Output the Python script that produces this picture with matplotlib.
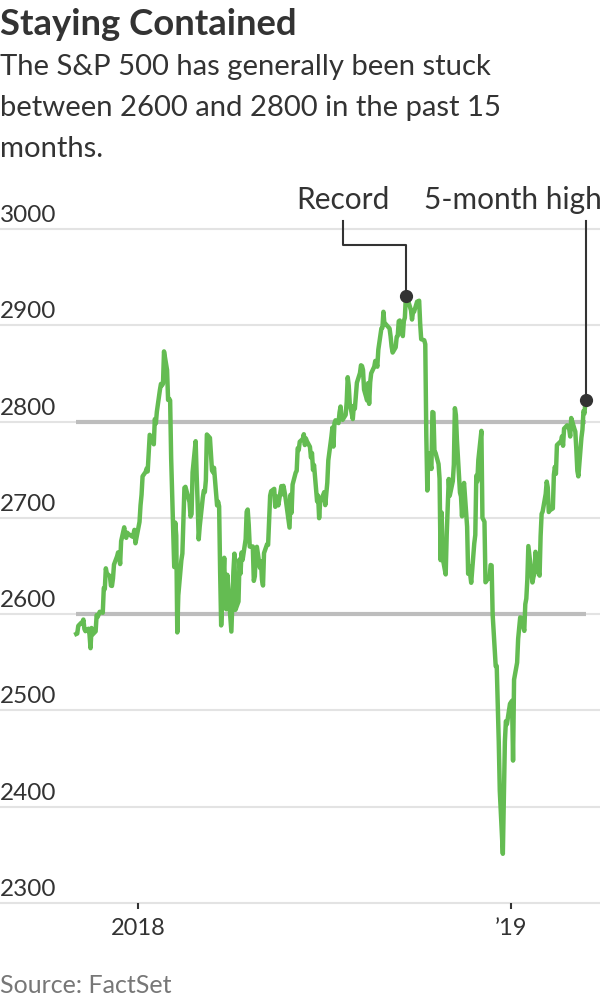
import numpy as np
import pandas as pd
import matplotlib
matplotlib.use('Agg')
import matplotlib.pyplot as plt
import matplotlib.transforms as mtransforms

plt.rcParams['font.family'] = ['Lato', 'DejaVu Sans']

# S&P 500 daily closes, Nov 2017 - Mar 15 2019
holidays = ['2017-11-23', '2017-12-25', '2018-01-01', '2018-01-15', '2018-02-19',
            '2018-03-30', '2018-05-28', '2018-07-04', '2018-09-03', '2018-11-22',
            '2018-12-05', '2018-12-25', '2019-01-01', '2019-01-21', '2019-02-18']

nov17 = [2579.36, 2579.85, 2587.84, 2591.13, 2590.64, 2594.38, 2584.62, 2582.30, 2584.84, 2578.87,
         2564.62, 2585.64, 2578.85, 2582.14, 2599.03, 2597.08, 2602.42, 2601.42, 2627.04, 2626.07,
         2647.58]
dec17 = [2642.22, 2639.44, 2629.57, 2629.27, 2636.98, 2651.50, 2659.99, 2664.11, 2662.85, 2652.01,
         2675.81, 2690.16, 2681.47, 2679.25, 2684.57, 2683.34, 2680.50, 2682.62, 2687.54, 2673.61]
jan18 = [2695.81, 2713.06, 2723.99, 2743.15, 2747.71, 2751.29, 2748.23, 2767.56, 2786.24, 2776.42,
         2802.56, 2798.03, 2810.30, 2832.97, 2839.13, 2837.54, 2839.25, 2872.87, 2853.53, 2822.43,
         2823.81]
feb18 = [2821.98, 2762.13, 2648.94, 2695.14, 2681.66, 2581.00, 2619.55, 2656.00, 2662.94, 2698.63,
         2731.20, 2732.22, 2716.26, 2701.33, 2703.96, 2747.30, 2779.60, 2744.28, 2713.83]
mar18 = [2677.67, 2691.25, 2720.94, 2728.12, 2726.80, 2738.97, 2786.57, 2783.02, 2765.31, 2749.48,
         2747.33, 2752.01, 2712.92, 2716.94, 2711.93, 2643.69, 2588.26, 2658.55, 2612.62, 2605.00,
         2640.87]
apr18 = [2581.88, 2614.45, 2644.69, 2662.84, 2604.47, 2613.16, 2656.87, 2642.19, 2663.99, 2656.30,
         2677.84, 2706.39, 2708.64, 2693.13, 2670.14, 2670.29, 2634.56, 2639.40, 2666.94, 2669.91,
         2648.05]
may18 = [2654.80, 2635.67, 2629.73, 2663.42, 2672.63, 2671.92, 2697.79, 2723.07, 2727.72, 2730.13,
         2711.45, 2722.46, 2720.13, 2712.97, 2733.01, 2724.44, 2733.29, 2727.76, 2721.33, 2689.86,
         2724.01, 2705.27]
jun18 = [2734.62, 2746.87, 2748.80, 2772.35, 2770.37, 2779.03, 2782.00, 2786.85, 2775.63, 2782.49,
         2779.66, 2773.75, 2762.59, 2767.32, 2749.76, 2754.88, 2717.07, 2723.06, 2699.63, 2716.31,
         2718.37]
jul18 = [2726.71, 2713.22, 2736.61, 2759.82, 2784.17, 2793.84, 2774.02, 2798.29, 2801.31, 2798.43,
         2809.55, 2815.62, 2804.49, 2801.83, 2806.98, 2820.40, 2846.07, 2837.44, 2818.82, 2802.60,
         2816.29]
aug18 = [2813.36, 2827.22, 2840.35, 2850.40, 2858.45, 2857.70, 2853.58, 2833.28, 2821.93, 2839.96,
         2818.37, 2840.69, 2850.13, 2857.05, 2862.96, 2861.82, 2856.98, 2874.69, 2896.74, 2897.52,
         2914.04, 2901.13, 2901.52]
sep18 = [2896.72, 2888.60, 2878.05, 2871.68, 2877.13, 2887.89, 2888.92, 2904.18, 2904.98, 2888.80,
         2904.31, 2907.95, 2930.75, 2929.67, 2919.37, 2915.56, 2905.97, 2914.00, 2913.98]
oct18 = [2924.59, 2923.43, 2925.51, 2901.61, 2885.57, 2884.43, 2880.34, 2785.68, 2728.37, 2767.13,
         2750.79, 2809.92, 2809.21, 2768.78, 2767.78, 2755.88, 2740.69, 2656.10, 2705.57, 2658.69,
         2641.25, 2682.63, 2711.74]
nov18 = [2740.37, 2723.06, 2738.31, 2755.45, 2813.89, 2806.83, 2781.01, 2726.22, 2722.18, 2701.58,
         2730.20, 2736.27, 2690.73, 2641.89, 2649.93, 2632.56, 2673.45, 2682.17, 2743.79, 2737.80,
         2760.17]
dec18 = [2790.37, 2700.06, 2695.95, 2633.08, 2637.72, 2636.78, 2651.07, 2650.54, 2599.95, 2545.94,
         2546.16, 2506.96, 2467.42, 2416.62, 2351.10, 2467.70, 2488.83, 2485.74, 2506.85]
jan19 = [2510.03, 2447.89, 2531.94, 2549.69, 2574.41, 2584.96, 2596.64, 2596.26, 2582.61, 2610.30,
         2616.10, 2635.96, 2670.71, 2632.90, 2638.70, 2642.33, 2664.76, 2643.85, 2640.00, 2681.05,
         2704.10]
feb19 = [2706.53, 2724.87, 2737.70, 2731.61, 2706.05, 2707.88, 2709.80, 2744.73, 2753.03, 2745.73,
         2775.60, 2779.76, 2784.70, 2774.88, 2792.67, 2796.11, 2793.90, 2792.38, 2784.49]
mar19 = [2803.69, 2792.81, 2789.65, 2771.45, 2748.93, 2743.07, 2783.30, 2791.52, 2810.92, 2808.48,
         2822.48]

closes = np.array(nov17 + dec17 + jan18 + feb18 + mar18 + apr18 + may18 + jun18 + jul18 +
                  aug18 + sep18 + oct18 + nov18 + dec18 + jan19 + feb19 + mar19)
dates = pd.bdate_range('2017-11-01', '2019-03-15', freq='C', holidays=holidays)
assert len(dates) == len(closes)

y_ticks = [2300, 2400, 2500, 2600, 2700, 2800, 2900, 3000]
band = [2600, 2800]
x_ticks = [pd.Timestamp('2018-01-01'), pd.Timestamp('2019-01-01')]
x_labels = ['2018', '\u201919']

green = '#64bc52'
dark = '#333333'

fig = plt.figure(figsize=(6, 10), dpi=100)
ax = fig.add_axes([0, 0.097, 1, 0.674])

t0 = pd.Timestamp('2018-01-01')
ax.set_xlim(t0 - pd.Timedelta(days=135.7), t0 + pd.Timedelta(days=452.2))
ax.set_ylim(2300, 3000)

# gridlines
for v in y_ticks:
    ax.axhline(v, color='#e3e3e3', lw=1.5, zorder=1, clip_on=False)
for v in band:
    ax.plot([dates[0], dates[-1]], [v, v], color='#bdbdbd', lw=3, zorder=2,
            solid_capstyle='butt')

ax.plot(dates, closes, color=green, lw=3.2, zorder=3)

# y labels sit above the gridlines
for v in y_ticks:
    ax.annotate(str(v), xy=(0, v), xycoords=('axes fraction', 'data'),
                xytext=(0, 3), textcoords='offset pixels', ha='left', va='bottom',
                fontsize=17.5, color=dark)

# annotations
i_rec = int(np.argmax(closes))
rec_d, rec_v = dates[i_rec], closes[i_rec]
elbow_d = pd.Timestamp('2018-07-20')
ax.plot([rec_d, rec_d, elbow_d, elbow_d], [rec_v, 2983, 2983, 3008], color=dark,
        lw=1.5, zorder=4, clip_on=False)
ax.plot([rec_d], [rec_v], 'o', color=dark, ms=8.5, zorder=5, clip_on=False)
ax.text(elbow_d, 3021, 'Record', ha='center', va='baseline', fontsize=21.5, color=dark)

last_d, last_v = dates[-1], closes[-1]
ax.plot([last_d, last_d], [last_v, 3008], color=dark, lw=1.5, zorder=4, clip_on=False)
ax.plot([last_d], [last_v], 'o', color=dark, ms=8.5, zorder=5, clip_on=False)
ax.text(1.003, 3021, '5-month high', transform=mtransforms.blended_transform_factory(
    ax.transAxes, ax.transData), ha='right', va='baseline', fontsize=21.5, color=dark)

ax.set_yticks([])
ax.set_xticks(x_ticks)
ax.set_xticklabels(x_labels)
ax.tick_params(axis='x', length=4.5, width=1.5, color=dark, pad=6.5, labelsize=17,
               labelcolor=dark)
for s in ax.spines.values():
    s.set_visible(False)
ax.patch.set_alpha(0)

fig.text(0.0, 0.965, 'Staying Contained', fontsize=26.3, fontweight='bold', color=dark,
         va='baseline', ha='left')
subtitle = ['The S&P 500 has generally been stuck',
            'between 2600 and 2800 in the past 15',
            'months.']
for k, line in enumerate(subtitle):
    fig.text(0.0, 0.925 - 0.041 * k, line, fontsize=21.1, color=dark,
             va='baseline', ha='left')
fig.text(0.0, 0.007, 'Source: FactSet', fontsize=18, color='#777777', va='baseline', ha='left')

plt.savefig('out.png', dpi=100)
